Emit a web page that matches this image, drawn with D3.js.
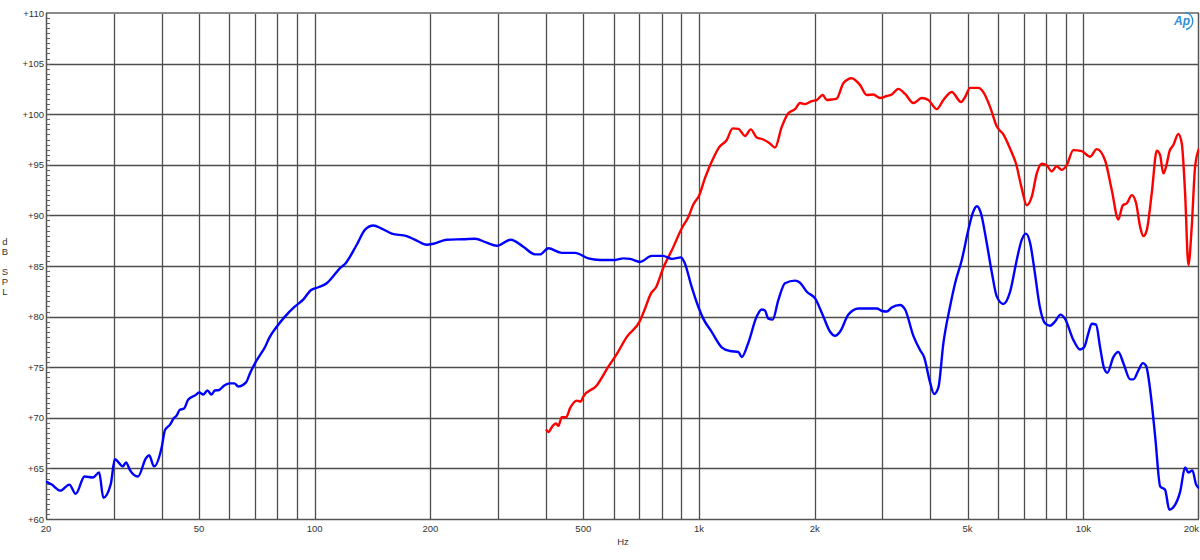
<!DOCTYPE html>
<html><head><meta charset="utf-8">
<script src="https://cdn.jsdelivr.net/npm/d3@7/dist/d3.min.js"></script>
<style>body{margin:0;background:#fff;}svg{display:block;font-family:"Liberation Sans",Arial,sans-serif;}</style>
</head><body>
<script>
// Blue series (woofer): frequency (Hz) and level (dB SPL)
const blueFreq = [20,20.7,21.8,23.0,23.9,25.2,26.5,27.5,28.2,29.5,30.2,31.7,32.3,33.1,34.7,36.4,37.1,38.2,40,40.8,42.0,43.1,43.7,44.6,45.7,46.9,48.8,50.1,51.3,52.6,53.9,55.0,56.4,58.2,60.2,61.8,63.3,66.3,67.9,70,72.1,74.3,76.2,79.7,83.7,88.9,93.5,97.7,102.2,107.5,113.5,116.4,119.3,128.7,135.3,142.2,149.4,158.7,173.6,184.4,195.7,203.6,220.7,243.8,261.4,280.3,297.7,323.8,349.1,374.5,386.4,405.5,439.6,475.9,515.5,553,605,635.6,662,702.5,753.9,805.5,851,898,915.7,957,996,1026,1079,1146,1204,1266,1292,1344,1413,1456,1485,1515,1555,1608,1674,1778,1832,1908,2005,2107,2194,2260,2328,2448,2600,2901,2996,3080,3174,3334,3438,3613,3760,3853,3993,4090,4197,4324,4501,4639,4829,5024,5158,5284,5412,5588,5784,5953,6194,6448,6712,6917,7097,7269,7482,7703,7947,8189,8437,8730,8957,9420,9807,10045,10307,10519,10794,11055,11324,11550,11975,12337,12714,13237,13502,13914,14288,14574,14928,15386,15856,16320,16747,17153,17867,18401,18765,19223,19656,20000];
const blueDb = [63.7,63.4,62.8,63.4,62.5,64.2,64.1,64.6,62.1,63.5,65.9,65.2,65.6,64.8,64.2,66.0,66.3,65.2,67.1,68.8,69.3,70.0,70.2,70.8,70.9,71.8,72.2,72.5,72.3,72.7,72.3,72.7,72.75,73.2,73.4,73.4,73.1,73.5,74.4,75.4,76.2,77.0,77.9,79.0,80.0,81.0,81.7,82.6,82.9,83.3,84.3,84.8,85.1,87.1,88.6,89.0,88.7,88.2,87.96,87.5,87.1,87.2,87.6,87.65,87.7,87.3,87.0,87.6,86.9,86.15,86.15,86.75,86.3,86.3,85.75,85.6,85.6,85.75,85.7,85.4,86.0,86.0,85.7,85.85,85.4,82.95,80.97,79.8,78.5,76.97,76.6,76.5,76.0,77.4,80.0,80.7,80.6,79.8,79.7,81.6,83.3,83.55,83.35,82.45,81.8,80.0,78.5,78.1,78.5,80.2,80.8,80.8,80.55,80.5,80.9,81.15,80.7,78.1,76.7,76.0,73.5,72.35,73.0,77.35,81.0,83.3,85.6,88.6,90.25,90.9,90.25,87.6,84.3,82.0,81.25,82.45,85.6,87.6,88.2,87.3,84.3,81.0,79.35,79.1,79.5,80.2,79.8,77.7,76.75,76.95,78.35,79.3,79.2,77.0,74.9,74.45,76.0,76.5,75.4,73.8,73.8,74.7,75.4,75.1,72.75,68.1,63.2,62.9,60.9,61.15,62.7,65.1,64.6,64.8,63.4,63.05];

// Red series (tweeter): frequency (Hz) and level (dB SPL)
const redFreq = [400,405.5,416.4,424.7,430.6,439.6,451,462,481,492.6,500,542,581,611,649,702.5,724,748,774.5,809,851,903,939.7,966,1002,1037,1079,1129,1181,1224,1266,1318,1364,1413,1470,1530,1577,1642,1708,1778,1832,1888,1966,2025,2099,2150,2216,2283,2375,2496,2623,2734,2842,2959,3080,3174,3302,3438,3613,3798,3952,4157,4324,4545,4809,4925,5076,5335,5499,5723,5953,6194,6448,6684,6917,7127,7344,7568,7791,8029,8273,8524,8782,9049,9420,9907,10413,10839,11391,11859,12337,12668,12977,13373,13722,14050,14330,14626,15070,15530,15840,16155,16490,16750,17150,17675,18040,18400,18770,19150,19536,20000];
const redDb = [68.85,68.6,69.2,69.45,69.2,70.05,70.05,70.95,71.7,71.6,72.1,73.2,75.05,76.3,78.0,79.6,80.8,82.2,82.95,84.9,86.6,88.75,89.9,91.05,92.0,93.7,95.3,96.75,97.45,98.6,98.55,97.85,98.5,97.7,97.5,97.1,96.7,98.75,100.1,100.5,101.1,101.0,101.3,101.4,101.9,101.4,101.45,101.55,103.05,103.55,102.9,101.9,101.95,101.6,101.8,101.95,102.5,102.0,101.1,101.6,101.4,100.5,101.4,102.2,101.2,101.7,102.6,102.6,102.15,100.7,98.8,98.0,96.6,95.1,92.65,91.0,91.85,94.15,95.1,94.95,94.35,94.85,94.5,94.95,96.45,96.35,95.8,96.55,95.45,92.5,89.6,91.0,91.2,92.0,91.2,88.9,87.95,88.55,92.2,96.4,95.95,94.15,95.1,96.3,96.95,98.05,97.1,92.2,85.1,88.9,94.8,96.6];

// Axes
const xTickValues = [20,50,100,200,500,1000,2000,5000,10000,20000];
const xTickLabels = ["20","50","100","200","500","1k","2k","5k","10k","20k"];
const xGridValues = [30,40,50,60,70,80,90,100,200,300,400,500,600,700,800,900,1000,2000,3000,4000,5000,6000,7000,8000,9000,10000];
const yTickValues = [60,65,70,75,80,85,90,95,100,105,110];
const yTickLabels = ["+60","+65","+70","+75","+80","+85","+90","+95","+100","+105","+110"];
const yTitleLetters = ["d","B","","S","P","L"];

const W = 1200, H = 560;
const L = 46, R = 1199, T = 13, B = 519;

const svg = d3.select("body").append("svg").attr("width", W).attr("height", H);
const x = d3.scaleLog().domain([20, 20000]).range([L, R]);
const y = d3.scaleLinear().domain([60, 110]).range([B, T]);

// grid
const g = svg.append("g");
g.selectAll(".vg").data(xGridValues).join("line")
  .attr("x1", d => Math.round(x(d)) + 0.5).attr("x2", d => Math.round(x(d)) + 0.5)
  .attr("y1", T).attr("y2", B)
  .attr("stroke", "#4d4d4d").attr("stroke-width", 1.3);
g.selectAll(".hg").data(yTickValues.slice(1, -1)).join("line")
  .attr("x1", L).attr("x2", R)
  .attr("y1", d => Math.round(y(d)) + 0.5).attr("y2", d => Math.round(y(d)) + 0.5)
  .attr("stroke", "#4d4d4d").attr("stroke-width", 1.3);

// minor ticks on left axis (every 0.5 dB)
const minor = d3.range(60, 110.01, 0.5);
g.selectAll(".mt").data(minor).join("line")
  .attr("x1", L).attr("x2", L + 4)
  .attr("y1", d => Math.round(y(d)) + 0.5).attr("y2", d => Math.round(y(d)) + 0.5)
  .attr("stroke", "#666").attr("stroke-width", 1);

// frame
svg.append("line").attr("x1", L).attr("x2", R).attr("y1", T).attr("y2", T).attr("stroke", "#8a8a8a").attr("stroke-width", 2);
svg.append("line").attr("x1", L).attr("x2", R).attr("y1", B + 0.5).attr("y2", B + 0.5).attr("stroke", "#555").attr("stroke-width", 1.5);
svg.append("line").attr("x1", L + 0.5).attr("x2", L + 0.5).attr("y1", T).attr("y2", B).attr("stroke", "#555").attr("stroke-width", 1.5);
svg.append("line").attr("x1", R - 0.5).attr("x2", R - 0.5).attr("y1", T).attr("y2", B).attr("stroke", "#555").attr("stroke-width", 1.5);

// curves
const line = d3.line().x(d => x(d[0])).y(d => y(d[1])).curve(d3.curveMonotoneX);
const clip = svg.append("clipPath").attr("id", "pc").append("rect").attr("x", L).attr("y", T).attr("width", R - L).attr("height", B - T);
svg.append("path").datum(redFreq.map((f, i) => [f, redDb[i]]))
  .attr("d", line).attr("fill", "none").attr("stroke", "#ff0000").attr("stroke-width", 2.4)
  .attr("stroke-linejoin", "round").attr("clip-path", "url(#pc)");
svg.append("path").datum(blueFreq.map((f, i) => [f, blueDb[i]]))
  .attr("d", line).attr("fill", "none").attr("stroke", "#0000ff").attr("stroke-width", 2.4)
  .attr("stroke-linejoin", "round").attr("clip-path", "url(#pc)");

// y labels
svg.selectAll(".yl").data(yTickValues).join("text")
  .attr("x", L - 2).attr("y", d => y(d) + 3.5)
  .attr("text-anchor", "end").attr("font-size", 9.5).attr("fill", "#333")
  .text((d, i) => yTickLabels[i]);

// x labels
svg.selectAll(".xl").data(xTickValues).join("text")
  .attr("x", d => x(d)).attr("y", 532)
  .attr("text-anchor", (d, i) => i === xTickValues.length - 1 ? "end" : "middle")
  .attr("font-size", 9.5).attr("fill", "#333")
  .text((d, i) => xTickLabels[i]);

svg.append("text").attr("x", 623).attr("y", 545).attr("text-anchor", "middle")
  .attr("font-size", 9.5).attr("fill", "#333").text("Hz");

svg.selectAll(".yt").data(yTitleLetters).join("text")
  .attr("x", 5).attr("y", (d, i) => 245 + i * 10).attr("text-anchor", "middle")
  .attr("font-size", 9.5).attr("fill", "#333").text(d => d);

// AP logo
const logo = svg.append("g").attr("transform", "translate(1184,21)");
logo.append("text").attr("x", -2).attr("y", 4).attr("text-anchor", "middle")
  .attr("font-size", 12).attr("font-style", "italic").attr("font-weight", "bold")
  .attr("fill", "#2e8fd8").text("Ap");
logo.append("path").attr("d", d3.arc()({innerRadius: 8, outerRadius: 9.5, startAngle: 0.2, endAngle: 2.9}))
  .attr("fill", "#2e8fd8");
</script>
</body></html>
